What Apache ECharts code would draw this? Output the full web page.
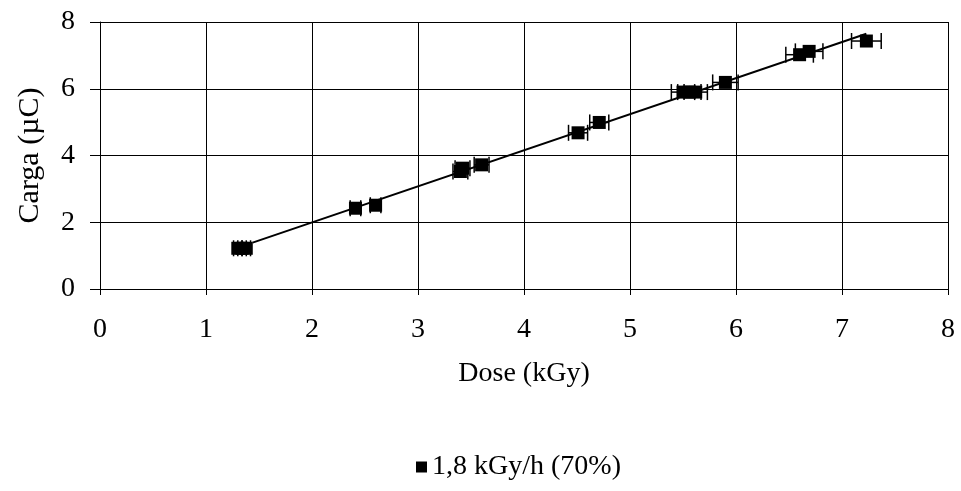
<!DOCTYPE html>
<html><head><meta charset="utf-8">
<script src="https://cdn.jsdelivr.net/npm/echarts@6/dist/echarts.min.js"></script>
<style>html,body{margin:0;padding:0;background:#fff}#c{width:961px;height:491px}</style>
</head><body><div id="c"></div>
<script>
var doseX = [1.30,1.34,1.38,2.41,2.60,3.40,3.42,3.60,4.51,4.71,5.50,5.56,5.62,5.90,6.60,6.69,7.23];
var cargaY = [1.22,1.22,1.22,2.42,2.51,3.52,3.62,3.72,4.68,4.99,5.90,5.90,5.90,6.19,7.02,7.12,7.43];
var doseErr = [0.04,0.04,0.04,0.05,0.05,0.07,0.07,0.07,0.09,0.09,0.11,0.11,0.11,0.12,0.13,0.13,0.14];
var trendX = [1.44,7.23];
var trendY = [1.39,7.65];
var xTicks = [0,1,2,3,4,5,6,7,8];
var yTicks = [0,2,4,6,8];
var seriesName = '1,8 kGy/h (70%)';

var pts = doseX.map(function(x,i){return [x,cargaY[i]];});
var errData = doseX.map(function(x,i){return [x-doseErr[i], x+doseErr[i], cargaY[i]];});
var trend = trendX.map(function(x,i){return [x,trendY[i]];});
var F = 'Liberation Serif, Times New Roman, serif';

var chart = echarts.init(document.getElementById('c'));
chart.setOption({
  animation:false,
  textStyle:{fontFamily:F,color:'#000'},
  grid:{left:100,right:13,top:22,bottom:202},
  xAxis:{type:'value',min:xTicks[0],max:xTicks[xTicks.length-1],interval:1,
    name:'Dose (kGy)',nameLocation:'middle',nameGap:71,
    nameTextStyle:{fontFamily:F,fontSize:28,color:'#000'},
    axisLine:{lineStyle:{color:'#000',width:1}},
    axisTick:{show:true,length:6,lineStyle:{color:'#000'}},
    axisLabel:{fontFamily:F,fontSize:28,color:'#000',margin:27},
    splitLine:{show:true,lineStyle:{color:'#000',width:1}}},
  yAxis:{type:'value',min:yTicks[0],max:yTicks[yTicks.length-1],interval:2,
    name:'Carga (µC)',nameLocation:'middle',nameGap:55,nameRotate:90,
    nameTextStyle:{fontFamily:F,fontSize:30,color:'#000'},
    axisLine:{show:true,lineStyle:{color:'#000',width:1}},
    axisTick:{show:true,length:10,lineStyle:{color:'#000'}},
    axisLabel:{fontFamily:F,fontSize:28,color:'#000',margin:25},
    splitLine:{show:true,lineStyle:{color:'#000',width:1}}},
  legend:{top:448,left:411,data:[{name:seriesName,icon:'rect'}],itemWidth:11,itemHeight:11,itemGap:12,
    textStyle:{fontFamily:F,fontSize:28,color:'#000'}},
  series:[
    {type:'line',name:'trend',data:trend,symbol:'none',lineStyle:{color:'#000',width:2},z:2,silent:true},
    {type:'custom',name:'err',data:errData,z:3,silent:true,
      renderItem:function(params,api){
        var a=api.coord([api.value(0),api.value(2)]);
        var b=api.coord([api.value(1),api.value(2)]);
        var h=8;
        var st={stroke:'#000',lineWidth:1.5};
        return {type:'group',children:[
          {type:'line',shape:{x1:a[0],y1:a[1],x2:b[0],y2:b[1]},style:st},
          {type:'line',shape:{x1:a[0],y1:a[1]-h,x2:a[0],y2:a[1]+h},style:st},
          {type:'line',shape:{x1:b[0],y1:b[1]-h,x2:b[0],y2:b[1]+h},style:st}
        ]};
      }},
    {type:'scatter',name:seriesName,data:pts,symbol:'rect',symbolSize:13,itemStyle:{color:'#000',opacity:1},z:4}
  ]
});
</script></body></html>
